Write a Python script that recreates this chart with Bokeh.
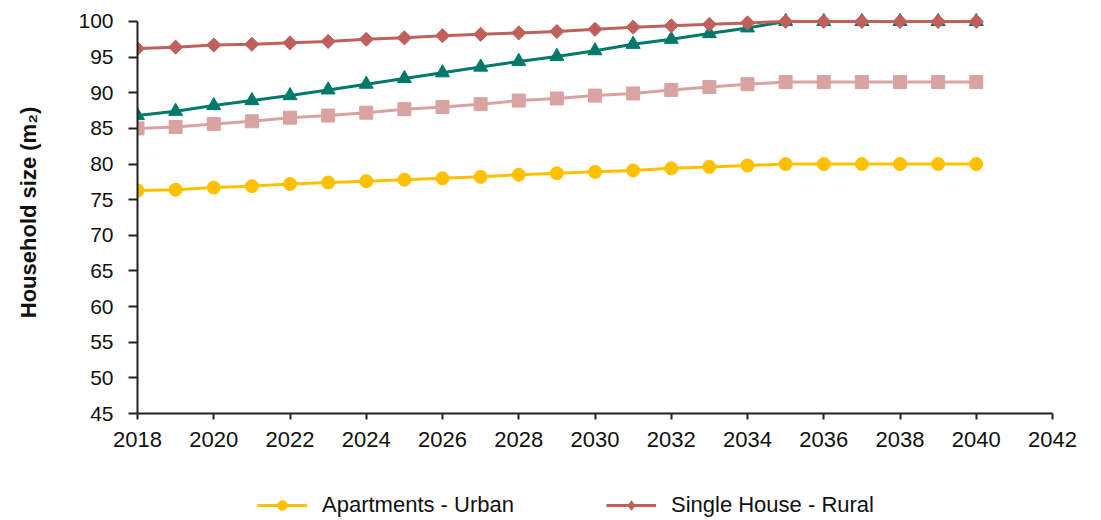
from bokeh.plotting import figure
from bokeh.layouts import column
from bokeh.models import Range1d, Legend, LegendItem, FixedTicker
from bokeh.embed import file_html
from bokeh.resources import INLINE

years = list(range(2018, 2041))
apartments_urban = [76.3, 76.4, 76.7, 76.9, 77.2, 77.4, 77.6, 77.8, 78.0, 78.2, 78.5, 78.7,
                    78.9, 79.1, 79.4, 79.6, 79.8, 80.0, 80.0, 80.0, 80.0, 80.0, 80.0]
single_house_rural = [96.2, 96.4, 96.7, 96.8, 97.0, 97.2, 97.5, 97.7, 98.0, 98.2, 98.4, 98.6,
                      98.9, 99.2, 99.4, 99.6, 99.8, 100, 100, 100, 100, 100, 100]
single_house_urban = [86.8, 87.4, 88.2, 88.9, 89.6, 90.4, 91.2, 92.0, 92.8, 93.6, 94.4, 95.1,
                      95.9, 96.8, 97.5, 98.3, 99.1, 100, 100, 100, 100, 100, 100]
apartments_rural = [85.0, 85.2, 85.6, 86.0, 86.5, 86.8, 87.2, 87.7, 88.0, 88.4, 88.9, 89.2,
                    89.6, 89.9, 90.4, 90.8, 91.2, 91.5, 91.5, 91.5, 91.5, 91.5, 91.5]
x_ticks = list(range(2018, 2043, 2))
y_ticks = list(range(45, 101, 5))

FONT = "Liberation Sans"
YEL = "#FFC000"
RED = "#C0605C"
TEAL = "#00796B"
PINK = "#D9A3A2"

p = figure(frame_width=915, frame_height=402, output_backend="svg", toolbar_location=None,
           x_range=Range1d(2018, 2042), y_range=Range1d(45, 101.4),
           min_border_left=137, min_border_right=41, min_border_top=11, min_border_bottom=47)
p.outline_line_color = None
p.xgrid.visible = False
p.ygrid.visible = False

p.line(years, apartments_rural, line_color=PINK, line_width=3)
p.scatter(years, apartments_rural, marker="square", size=13, fill_color=PINK, line_color=PINK)
p.line(years, single_house_urban, line_color=TEAL, line_width=3)
p.scatter(years, single_house_urban, marker="triangle", size=14, fill_color=TEAL, line_color=TEAL)
p.line(years, apartments_urban, line_color=YEL, line_width=3)
p.scatter(years, apartments_urban, marker="circle", size=13, fill_color=YEL, line_color=YEL)
p.line(years, single_house_rural, line_color=RED, line_width=3)
p.scatter(years, single_house_rural, marker="square", angle=0.785398, size=10,
          fill_color=RED, line_color=RED)

for ax in (p.xaxis[0], p.yaxis[0]):
    ax.axis_line_width = 2
    ax.axis_line_color = "#222222"
    ax.major_tick_line_width = 2
    ax.major_tick_line_color = "#222222"
    ax.minor_tick_line_color = None
    ax.major_tick_in = 0
    ax.major_label_text_font = FONT
    ax.major_label_text_color = "#111111"

p.xaxis.ticker = FixedTicker(ticks=x_ticks)
p.yaxis.ticker = FixedTicker(ticks=y_ticks)
p.yaxis.bounds = (45, 100)
p.xaxis.major_tick_out = 6
p.yaxis.major_tick_out = 9
p.xaxis.major_label_text_font_size = "22px"
p.yaxis.major_label_text_font_size = "21px"
p.xaxis.major_label_standoff = 12
p.yaxis.major_label_standoff = 15

p.yaxis.axis_label = "Household size (m\u2082)"
p.yaxis.axis_label_text_font = FONT
p.yaxis.axis_label_text_font_style = "bold"
p.yaxis.axis_label_text_font_size = "22px"
p.yaxis.axis_label_standoff = 34
p.yaxis.axis_label_text_color = "#111111"

# Legend strip below the chart (legend entries shown in the reference)
q = figure(width=1093, height=58, output_backend="svg", toolbar_location=None,
           x_range=Range1d(0, 1), y_range=Range1d(0, 1),
           x_axis_location=None, y_axis_location=None, min_border=0)
q.outline_line_color = None
q.xgrid.visible = False
q.ygrid.visible = False
l1 = q.line(years, apartments_urban, line_color=YEL, line_width=3)
m1 = q.scatter(years, apartments_urban, marker="circle", size=13, fill_color=YEL, line_color=YEL)
l2 = q.line(years, single_house_rural, line_color=RED, line_width=3)
m2 = q.scatter(years, single_house_rural, marker="diamond", size=16,
               fill_color=RED, line_color=RED)

legend = Legend(items=[LegendItem(label="Apartments - Urban", renderers=[l1, m1]),
                       LegendItem(label="Single House - Rural", renderers=[l2, m2])],
                orientation="horizontal", location=(120, 0),
                label_text_font=FONT, label_text_font_size="22px", label_text_color="#111111",
                glyph_width=50, glyph_height=24, spacing=92, label_standoff=15,
                border_line_color=None, background_fill_alpha=0, margin=0, padding=0)
q.add_layout(legend, "center")

layout = column(p, q, spacing=0)
open("out.html", "w").write(file_html(layout, INLINE))
